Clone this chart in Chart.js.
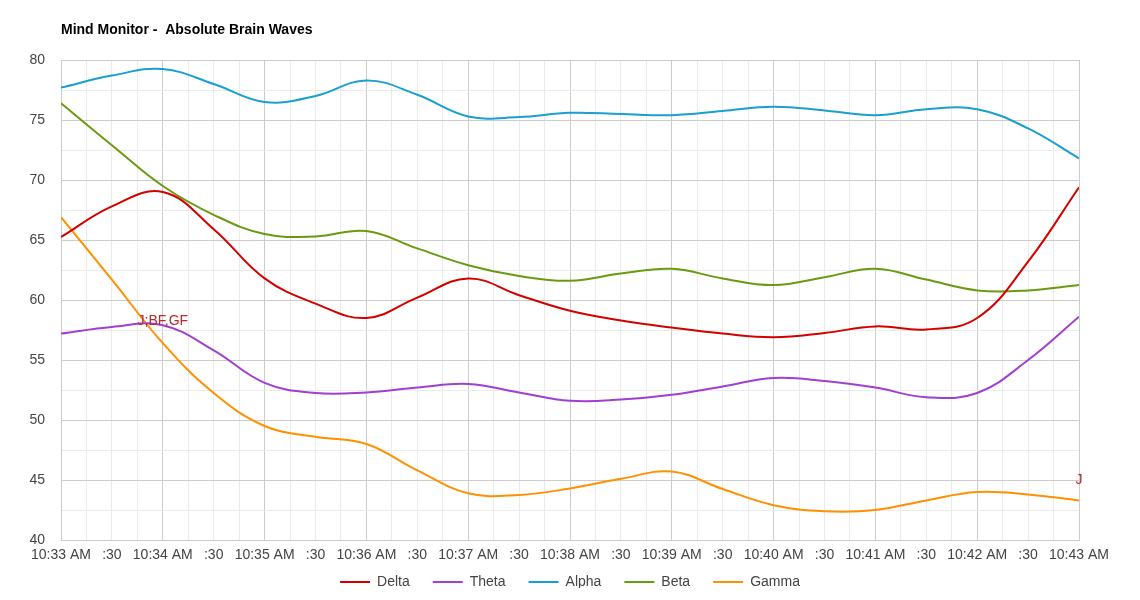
<!DOCTYPE html>
<html>
<head>
<meta charset="utf-8">
<title>Mind Monitor - Absolute Brain Waves</title>
<script src="https://cdn.jsdelivr.net/npm/chart.js@4.4.1/dist/chart.umd.min.js"></script>
<style>
  html, body { margin: 0; padding: 0; background: #fff; }
  #wrap { width: 1140px; height: 600px; }
</style>
</head>
<body>
<div id="wrap"><canvas id="brain-chart" width="1140" height="600"></canvas></div>
<script>
// ── Data ─────────────────────────────────────────────────

const chartTitle = "Mind Monitor -  Absolute Brain Waves";

const sampleTimes = [
  "10:33:00", "10:33:30", "10:34:00", "10:34:30", "10:35:00", "10:35:30",
  "10:36:00", "10:36:30", "10:37:00", "10:37:30", "10:38:00", "10:38:30",
  "10:39:00", "10:39:30", "10:40:00", "10:40:30", "10:41:00", "10:41:30",
  "10:42:00", "10:42:30", "10:43:00"
];

const minuteLabels = [
  "10:33 AM", "10:34 AM", "10:35 AM", "10:36 AM", "10:37 AM", "10:38 AM",
  "10:39 AM", "10:40 AM", "10:41 AM", "10:42 AM", "10:43 AM"
];

const delta = [65.25, 67.8, 69.0, 65.9, 61.8, 59.7, 58.5, 60.2, 61.8, 60.4, 59.1,
               58.3, 57.7, 57.2, 56.9, 57.25, 57.8, 57.55, 58.5, 63.2, 69.4];
const theta = [57.2, 57.75, 57.9, 55.8, 53.1, 52.25, 52.3, 52.7, 53.0, 52.3, 51.6,
               51.7, 52.1, 52.8, 53.5, 53.25, 52.7, 51.9, 52.25, 55.0, 58.6];
const alpha = [77.7, 78.7, 79.25, 78.0, 76.5, 77.0, 78.3, 77.1, 75.3, 75.25, 75.6,
               75.5, 75.4, 75.75, 76.1, 75.8, 75.4, 75.9, 75.9, 74.3, 71.8];
const beta  = [76.4, 72.9, 69.5, 67.1, 65.5, 65.3, 65.75, 64.3, 62.9, 62.0, 61.6,
               62.2, 62.6, 61.8, 61.25, 61.9, 62.6, 61.7, 60.8, 60.8, 61.25];
const gamma = [66.9, 61.7, 56.4, 52.25, 49.5, 48.6, 48.0, 45.8, 43.9, 43.75, 44.3,
               45.1, 45.7, 44.25, 42.9, 42.4, 42.5, 43.3, 44.0, 43.8, 43.3];

const seriesNames  = ["Delta", "Theta", "Alpha", "Beta", "Gamma"];
const seriesColors = ["#d40000", "#a040d0", "#1a9fd1", "#6a9a10", "#ff9000"];

// annotations (time, value where the text sits, text)
const annTimes  = ["10:34:00", "10:43:00"];
const annValues = [58.25, 45.0];
const annLabels = ["J;BF,GF", "J"];

// ── Helpers ──────────────────────────────────────────────

const START = toSec("10:33:00");

function toSec(t) {
  const [h, m, s] = t.split(":").map(Number);
  return h * 3600 + m * 60 + s;
}

function points(values) {
  return values.map((v, i) => ({ x: toSec(sampleTimes[i]) - START, y: v }));
}

// ── Chart ────────────────────────────────────────────────

Chart.defaults.font.family = '"Liberation Sans", Arial, sans-serif';
Chart.defaults.font.size = 14;
Chart.defaults.color = "#444";

const titlePlugin = {
  id: "leftTitle",
  afterDraw(chart) {
    const ctx = chart.ctx;
    ctx.save();
    ctx.font = 'bold 14px "Liberation Sans", Arial, sans-serif';
    ctx.fillStyle = "#000";
    ctx.textAlign = "left";
    ctx.textBaseline = "middle";
    ctx.fillText(chartTitle, chart.chartArea.left, 30);
    ctx.restore();
  }
};

// pull the legend up a little, closer to the axis labels
const legendShift = {
  id: "legendShift",
  afterLayout(chart) {
    const lg = chart.legend;
    if (!lg) return;
    const h = lg.height;
    lg.top = chart.chartArea.bottom + 12;
    lg.bottom = lg.top + h;
  }
};

const annotationPlugin = {
  id: "textAnnotations",
  afterDatasetsDraw(chart) {
    const ctx = chart.ctx;
    const xs = chart.scales.x, ys = chart.scales.y;
    ctx.save();
    ctx.font = '14px "Liberation Sans", Arial, sans-serif';
    ctx.fillStyle = "#b52a2a";
    ctx.textAlign = "center";
    ctx.textBaseline = "middle";
    annLabels.forEach((txt, i) => {
      const px = xs.getPixelForValue(toSec(annTimes[i]) - START);
      const py = ys.getPixelForValue(annValues[i]);
      ctx.fillText(txt, px, py);
    });
    ctx.restore();
  }
};

const allSeries = [delta, theta, alpha, beta, gamma];

const brainChart = new Chart(document.getElementById("brain-chart"), {
  type: "line",
  data: {
    datasets: allSeries.map((vals, i) => ({
      label: seriesNames[i],
      data: points(vals),
      borderColor: seriesColors[i],
      backgroundColor: seriesColors[i],
      borderWidth: 2,
      pointRadius: 0,
      pointHoverRadius: 0,
      tension: 0.4,
      fill: false
    }))
  },
  options: {
    responsive: false,
    animation: false,
    layout: { padding: { top: 60, left: 0, right: 0, bottom: 0 } },
    plugins: {
      title: { display: false },
      tooltip: { enabled: false },
      legend: {
        position: "bottom",
        maxHeight: 36,
        labels: {
          boxWidth: 30,
          boxHeight: 2,
          padding: 23,
          color: "#444",
          font: { size: 14 },
          generateLabels: chart =>
            Chart.defaults.plugins.legend.labels.generateLabels(chart)
              .map(item => ({ ...item, lineWidth: 0 }))
        }
      }
    },
    scales: {
      x: {
        type: "linear",
        min: 0,
        max: 600,
        afterFit: scale => { scale.height = 24; },
        grid: {
          drawTicks: false,
          color: ctx => (ctx.tick && ctx.tick.value % 60 === 0) ? "#cccccc" : "#ebebeb"
        },
        border: { color: "#cccccc" },
        ticks: {
          stepSize: 15,
          autoSkip: false,
          maxRotation: 0,
          padding: 7,
          color: "#444",
          callback: v => {
            if (v % 60 === 0) return minuteLabels[v / 60];
            if (v % 30 === 0) return ":30";
            return "";
          }
        }
      },
      y: {
        min: 40,
        max: 80,
        afterFit: scale => { scale.width = 61; },
        grid: {
          drawTicks: false,
          color: ctx => (ctx.tick && ctx.tick.value % 5 === 0) ? "#cccccc" : "#ebebeb"
        },
        border: { color: "#cccccc" },
        ticks: {
          stepSize: 2.5,
          padding: 16,
          color: "#444",
          callback: v => (v % 5 === 0 ? v : "")
        }
      },
      yRight: {
        position: "right",
        afterFit: scale => { scale.width = 61; },
        grid: { display: false },
        border: { display: false },
        ticks: { display: false }
      }
    }
  },
  plugins: [titlePlugin, legendShift, annotationPlugin]
});
</script>
</body>
</html>
